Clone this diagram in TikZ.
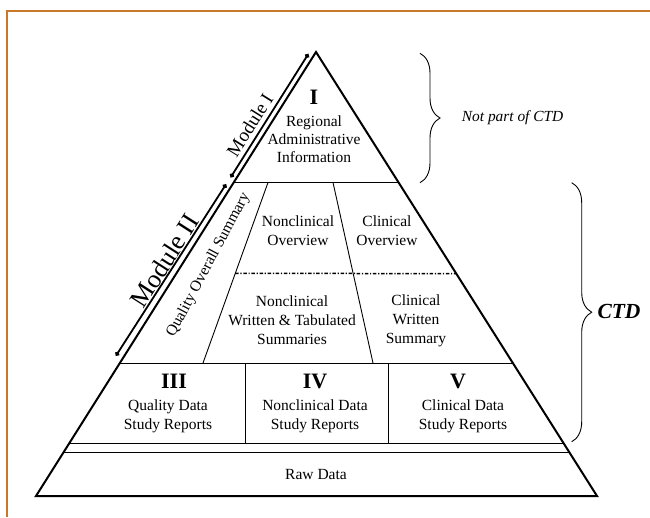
\documentclass[tikz,border=0pt]{standalone}
\usepackage{fontspec}
\setmainfont{Liberation Serif}
\usetikzlibrary{calc,arrows.meta,decorations.pathreplacing}
\definecolor{frameorange}{RGB}{200,120,40}
\begin{document}
\begin{tikzpicture}[x=1pt,y=-1pt,
  outline/.style={line width=2pt, line join=miter},
  thinline/.style={line width=0.9pt},
  dashdotline/.style={line width=1.5pt, dash pattern=on 3.5pt off 1.7pt on 1.2pt off 1.7pt},
  modarrow/.style={line width=1.8pt, {Circle[length=4.5pt]}-{Circle[length=4.5pt]}},
  txt/.style={font=\fontsize{15.5}{19}\selectfont, align=center, inner sep=0pt},
  txtI/.style={font=\fontsize{15.5}{18}\selectfont, align=center, inner sep=0pt},
  roman/.style={font=\fontsize{22}{24}\selectfont\bfseries, inner sep=0pt},
  bracestyle/.style={line width=0.9pt, decorate, decoration={brace, amplitude=20pt}}
]
\useasboundingbox (0,0) rectangle (650,517);
% frame
\draw[frameorange, line width=1.5pt] (650,11) -- (7,11) -- (7,517);

% pyramid corners
\coordinate (apex) at (316,52);
\coordinate (bl) at (36,496);
\coordinate (br) at (597,496);
% edge points
\coordinate (l1) at ($(apex)!0.2939!(bl)$);
\coordinate (r1) at ($(apex)!0.2939!(br)$);
\coordinate (r2) at ($(apex)!0.4989!(br)$);
\coordinate (l3) at ($(apex)!0.7005!(bl)$);
\coordinate (r3) at ($(apex)!0.7005!(br)$);
\coordinate (l4) at ($(apex)!0.8806!(bl)$);
\coordinate (r4) at ($(apex)!0.8806!(br)$);
\coordinate (l5) at ($(apex)!0.9009!(bl)$);
\coordinate (r5) at ($(apex)!0.9009!(br)$);
% inner slanted lines
\coordinate (s1t) at (268,182.5);
\coordinate (s1b) at (203,363);
\coordinate (s2t) at (333,182.5);
\coordinate (s2b) at (373,363);
\coordinate (dl) at ($(s1t)!0.504!(s1b)$);
% vertical dividers
\coordinate (v1t) at (245.7,363);
\coordinate (v1b) at (245.7,443);
\coordinate (v2t) at (388,363);
\coordinate (v2b) at (388,443);

% inner lines
\draw[thinline] (l1) -- (r1);
\draw[thinline] (l3) -- (r3);
\draw[thinline] (l4) -- (r4);
\draw[thinline] (l5) -- (r5);
\draw[thinline] (s1t) -- (s1b);
\draw[thinline] (s2t) -- (s2b);
\draw[thinline] (v1t) -- (v1b);
\draw[thinline] (v2t) -- (v2b);
\draw[dashdotline] (dl) -- (r2);
% outline
\draw[outline] (apex) -- (bl) -- (br) -- cycle;

% texts
\node[roman] (numI) at (314,97) {I};
\node[txtI] (regI) at (314,139) {Regional\\Administrative\\Information};
\node[txt] (ncov) at (298,231) {Nonclinical\\Overview};
\node[txt] (clov) at (387,231) {Clinical\\Overview};
\node[txt] (ncws) at (292,320) {Nonclinical\\Written \& Tabulated\\Summaries};
\node[txt] (clws) at (416,321) {Clinical\\Written\\Summary};
\node[txt, rotate=62] (qos) at (208.5,265) {Quality Overall Summary};
\node[roman] (numIII) at (174,381.5) {III};
\node[roman] (numIV) at (315,381.5) {IV};
\node[roman] (numV) at (458,381.5) {V};
\node[txt] (qd) at (168,416.5) {Quality Data\\Study Reports};
\node[txt] (nd) at (315,416.5) {Nonclinical Data\\Study Reports};
\node[txt] (cd) at (463,416.5) {Clinical Data\\Study Reports};
\node[txt] (raw) at (316,474) {Raw Data};

% module arrows
\coordinate (m1a) at (230.7,177.3);
\coordinate (m1b) at (308.3,54);
\coordinate (m2a) at (116,355.7);
\coordinate (m2b) at (226,184.3);
\draw[modarrow] (m1a) -- node[pos=0.374, sloped, above=4pt, inner sep=0pt, font=\fontsize{19}{19}\selectfont] (m1lab) {Module I} (m1b);
\draw[modarrow] (m2a) -- node[pos=0.52, sloped, above=0.5pt, inner sep=0pt, font=\fontsize{26}{26}\selectfont] (m2lab) {Module II} (m2b);

% braces
\coordinate (b1t) at (420,53.3);
\coordinate (b1b) at (420,182.7);
\coordinate (b2t) at (571.7,182.7);
\coordinate (b2b) at (571.7,441.7);
\draw[bracestyle] (b1t) -- (b1b);
\draw[bracestyle] (b2t) -- (b2b);
\node[font=\fontsize{15.4}{18}\selectfont\itshape, anchor=west, inner sep=0pt] (npc) at (461.7,118) {Not part of CTD};
\node[font=\fontsize{21.5}{24}\selectfont\bfseries\itshape, anchor=west, inner sep=0pt] (ctd) at (597.3,311.7) {CTD};
\end{tikzpicture}
\end{document}
